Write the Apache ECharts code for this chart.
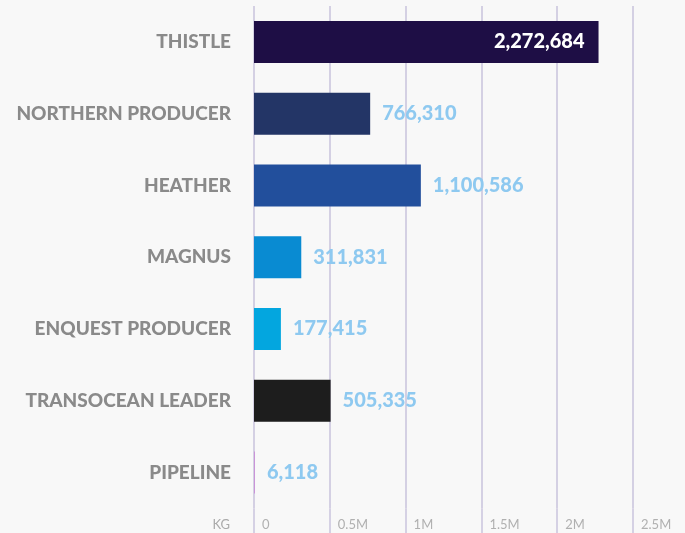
<!DOCTYPE html>
<html><head><meta charset="utf-8">
<script src="https://cdn.jsdelivr.net/npm/echarts@6/dist/echarts.min.js"></script>
<style>html,body{margin:0;padding:0;background:#f8f8f8;}#c{width:685px;height:533px;}</style>
</head><body><div id="c"></div>
<script>
const categories = ['THISTLE','NORTHERN PRODUCER','HEATHER','MAGNUS','ENQUEST PRODUCER','TRANSOCEAN LEADER','PIPELINE'];
const values = [2272684, 766310, 1100586, 311831, 177415, 505335, 6118];
const barColors = ['#1e0e45','#233566','#224f9c','#098bd2','#03a6df','#1d1d1d','#c98fd8'];
const tickLabels = {0:'0',500000:'0.5M',1000000:'1M',1500000:'1.5M',2000000:'2M',2500000:'2.5M'};

const chart = echarts.init(document.getElementById('c'));
chart.setOption({
  backgroundColor:'#f8f8f8',
  animation:false,
  grid:{left:254,right:52,top:6,bottom:24.5,containLabel:false,outerBoundsMode:'none'},
  xAxis:{
    type:'value',min:0,max:2500000,interval:500000,
    name:'KG',nameLocation:'start',nameGap:24,
    nameTextStyle:{color:'#aaaaaa',fontFamily:'Lato',fontSize:13,verticalAlign:'top',padding:[10,0,0,0]},
    axisLine:{show:false},
    axisTick:{show:true,length:25,lineStyle:{color:'#c9c3dd',width:1.5}},
    splitLine:{show:true,lineStyle:{color:'#c9c3dd',width:1.5}},
    axisLabel:{color:'#b0b0b0',fontFamily:'Lato',fontSize:13,align:'left',margin:10,padding:[0,0,0,8],
      formatter:v=>tickLabels[v]!==undefined?tickLabels[v]:''}
  },
  yAxis:{
    type:'category',data:categories,inverse:true,
    axisLine:{show:false},axisTick:{show:false},
    axisLabel:{color:'#8a8a8a',fontFamily:'Lato',fontWeight:900,fontSize:19,margin:23}
  },
  series:[{
    type:'bar',barWidth:42,
    data:values.map((v,i)=>({value:v,itemStyle:{color:barColors[i]},
      label: i===0 ? {position:'insideRight',color:'#ffffff',distance:14} : {position:'right',color:'#8ec9f0',distance:12}
    })),
    label:{show:true,fontFamily:'Lato',fontWeight:900,fontSize:20,
      formatter:p=>p.value.toLocaleString('en-US')}
  }]
});
</script></body></html>
